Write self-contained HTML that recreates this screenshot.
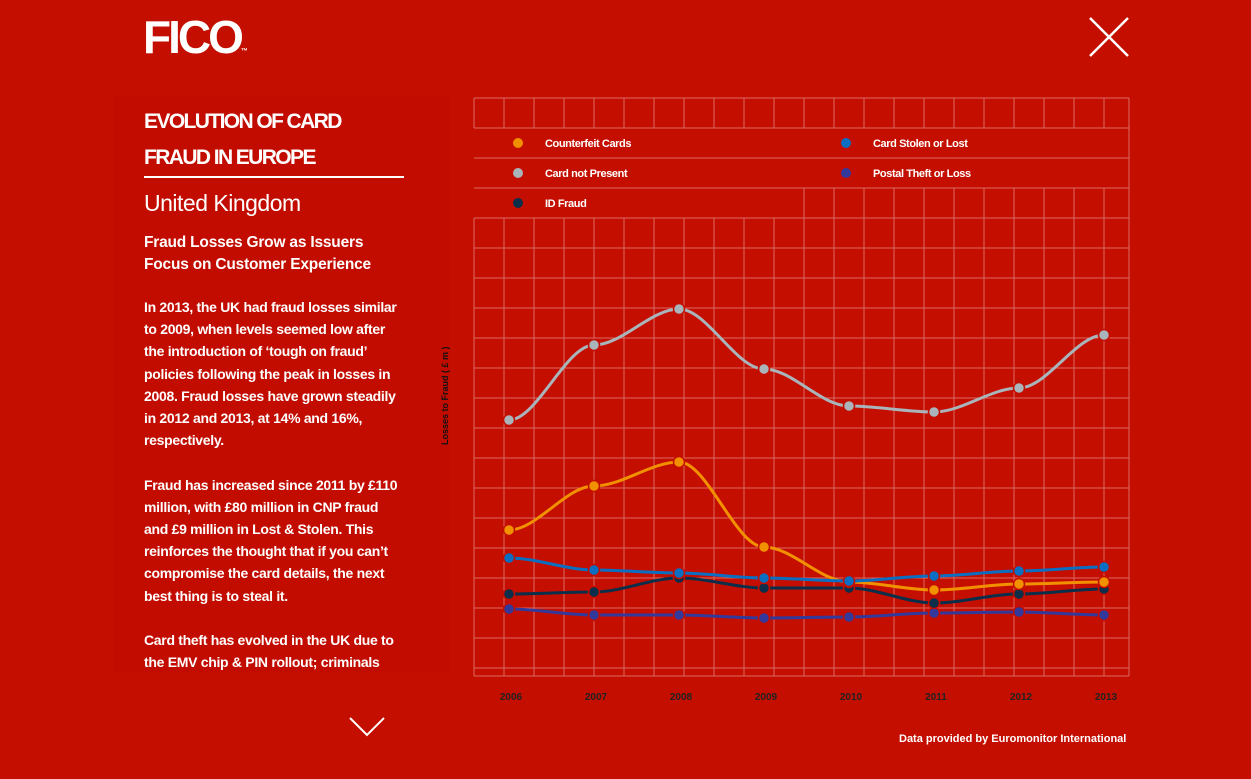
<!DOCTYPE html>
<html><head><meta charset="utf-8"><style>
body{margin:0;width:1251px;height:779px;background:#c40e00;overflow:hidden;font-family:"Liberation Sans",sans-serif;color:#fff;position:relative}
.a{position:absolute}
</style></head><body>
<div class="a" style="left:113px;top:95px;width:337px;height:684px;background:#c20c00"></div>
<div class="a" style="left:143px;top:10px;font-size:46px;font-weight:bold;letter-spacing:-3px">FICO<span style="font-size:7px;letter-spacing:0">™</span></div>
<svg class="a" style="left:1088px;top:16px" width="42" height="42"><path d="M2 2L40 40M40 2L2 40" stroke="#fff" stroke-width="2.5"/></svg>
<div class="a" style="left:144px;top:104px;font-size:21px;font-weight:bold;letter-spacing:-1.6px;line-height:36px">EVOLUTION OF CARD<br>FRAUD IN EUROPE</div>
<div class="a" style="left:144px;top:176px;width:260px;height:2px;background:#fff"></div>
<div class="a" style="left:144px;top:190px;font-size:23px;letter-spacing:-0.5px">United Kingdom</div>
<div class="a" style="left:144px;top:232px;font-size:15.5px;font-weight:bold;line-height:22px;letter-spacing:-0.2px">Fraud Losses Grow as Issuers<br>Focus on Customer Experience</div>
<div class="a" style="left:144px;top:296px;font-size:14px;font-weight:bold;line-height:22.2px;letter-spacing:-0.3px;width:290px">In 2013, the UK had fraud losses similar<br>to 2009, when levels seemed low after<br>the introduction of ‘tough on fraud’<br>policies following the peak in losses in<br>2008. Fraud losses have grown steadily<br>in 2012 and 2013, at 14% and 16%,<br>respectively.<br><br>Fraud has increased since 2011 by £110<br>million, with £80 million in CNP fraud<br>and £9 million in Lost &amp; Stolen. This<br>reinforces the thought that if you can’t<br>compromise the card details, the next<br>best thing is to steal it.<br><br>Card theft has evolved in the UK due to<br>the EMV chip &amp; PIN rollout; criminals</div>
<div class="a" style="left:113px;top:672px;width:337px;height:107px;background:#c40e00"></div>
<svg class="a" style="left:348px;top:715px" width="38" height="24"><path d="M2 3L19 20L36 3" stroke="#fff" stroke-width="2" fill="none"/></svg>
<div class="a" style="left:440px;top:445px;transform:rotate(-90deg);transform-origin:0 0;font-size:9px;font-weight:bold;color:#111">Losses to Fraud ( £ m )</div>
<svg id="ch" class="a" style="left:0;top:0" width="1251" height="779"></svg>
<div class="a" style="left:899px;top:733px;font-size:11px;font-weight:bold">Data provided by Euromonitor International</div>
<script>
var s='',L='#dc6a64';
for(var x=474;x<=1130;x+=30){s+='<line x1="'+x+'" y1="98" x2="'+x+'" y2="128" stroke="'+L+'"/>';s+='<line x1="'+x+'" y1="'+(x>=804?188:218)+'" x2="'+x+'" y2="676" stroke="'+L+'"/>';}
s+='<line x1="1129" y1="98" x2="1129" y2="676" stroke="'+L+'"/>';
for(var y=98;y<=668;y+=30)s+='<line x1="474" y1="'+y+'" x2="1129" y2="'+y+'" stroke="'+L+'"/>';
s+='<line x1="474" y1="676" x2="1129" y2="676" stroke="'+L+'"/>';
var leg=[[518,143,'#f29100','Counterfeit Cards'],[518,173,'#a9b4bb','Card not Present'],[518,203,'#0b2f4a','ID Fraud'],[846,143,'#0a6fc2','Card Stolen or Lost'],[846,173,'#33399a','Postal Theft or Loss']];
leg.forEach(function(l){s+='<circle cx="'+l[0]+'" cy="'+l[1]+'" r="5" fill="'+l[2]+'"/><text x="'+(l[0]+27)+'" y="'+(l[1]+4)+'" font-size="11" font-weight="bold" fill="#fff" letter-spacing="-0.4">'+l[3]+'</text>';});
var X=[509,594,679,764,849,934,1019,1104];
var D=[['#33399a',[609,615,615,618,617,613,612,615]],['#0b2f4a',[594,592,578,588,588,603,594,589]],['#f29100',[530,486,462,547,582,590,584,582]],['#0a6fc2',[558,570,573,578,581,576,571,567]],['#a9b4bb',[420,345,309,369,406,412,388,335]]];
D.forEach(function(d){var Y=d[1],p='M'+X[0]+' '+Y[0];for(var i=0;i<7;i++){var c=28;p+=' C'+(X[i]+c)+' '+Y[i]+' '+(X[i+1]-c)+' '+Y[i+1]+' '+X[i+1]+' '+Y[i+1];}
s+='<path d="'+p+'" stroke="'+d[0]+'" stroke-width="3" fill="none"/>';X.forEach(function(x,i){s+='<circle cx="'+x+'" cy="'+Y[i]+'" r="5.5" fill="'+d[0]+'" stroke="#c40e00" stroke-width="1.5"/>';});});
X.forEach(function(x,i){s+='<text x="'+(x+2)+'" y="700" text-anchor="middle" font-size="10" font-weight="bold" fill="#222">'+(2006+i)+'</text>';});
document.getElementById('ch').innerHTML=s;
</script>
</body></html>
